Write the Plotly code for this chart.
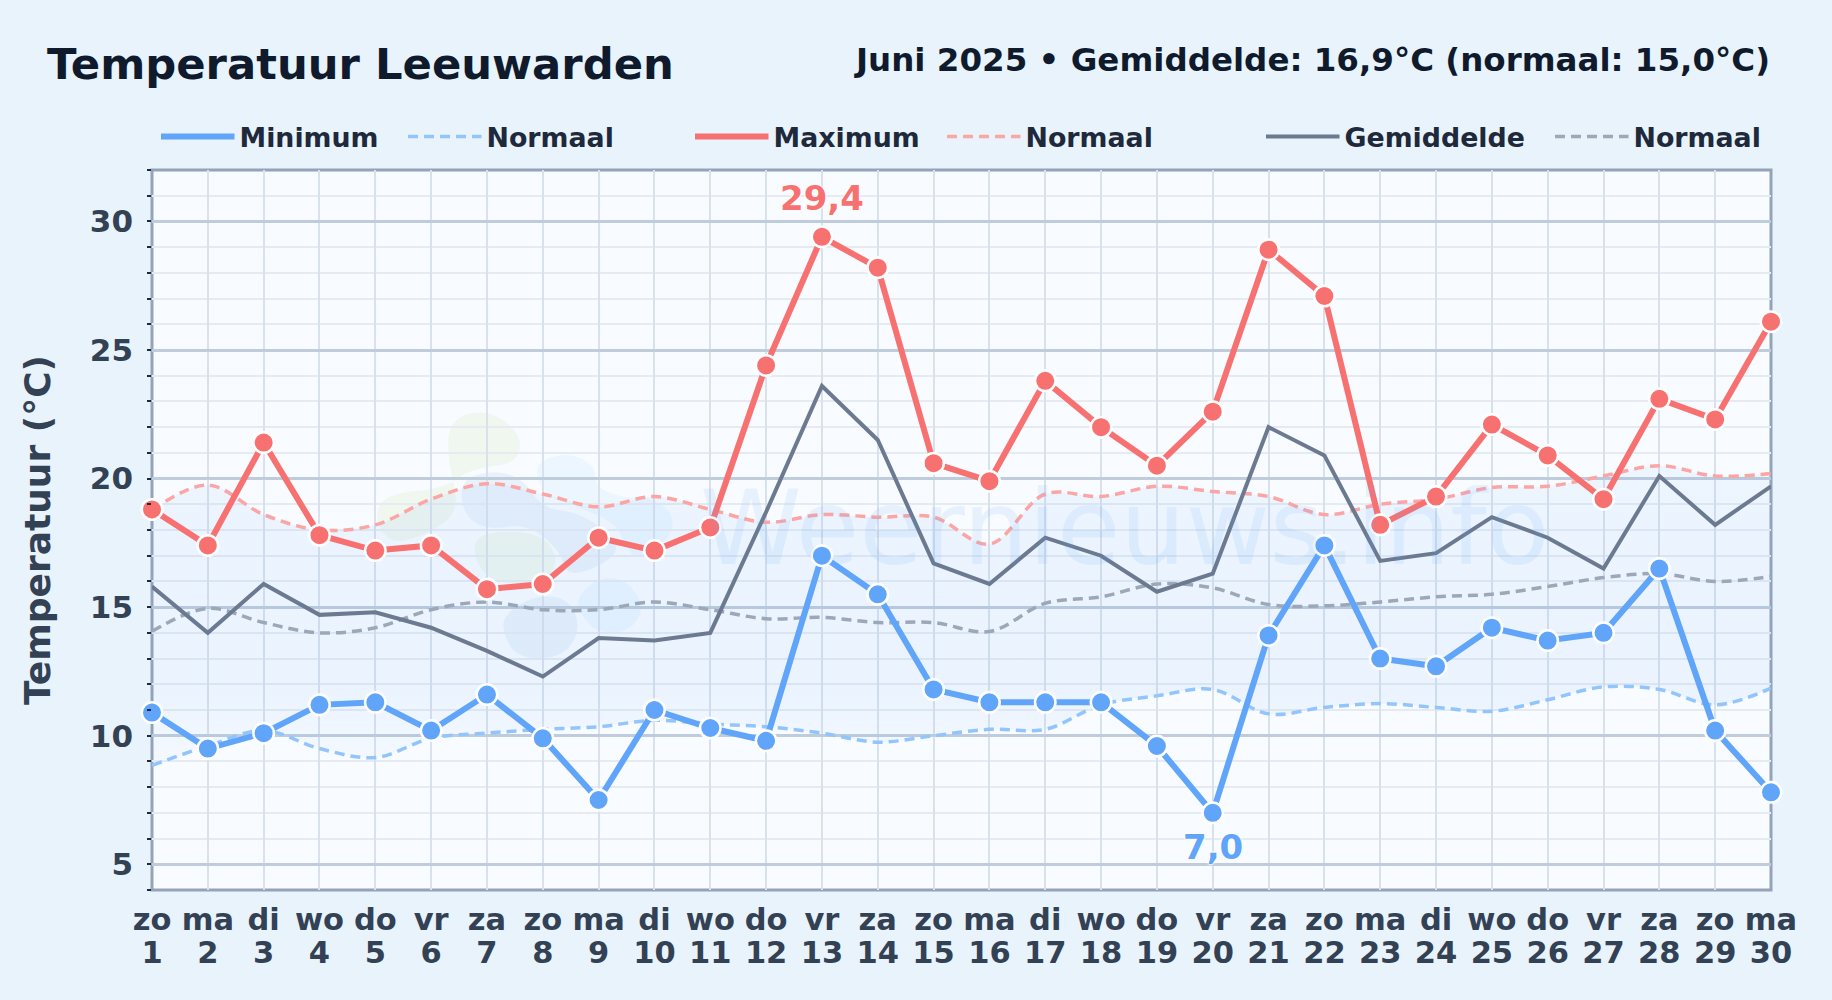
import plotly.graph_objects as go

days = list(range(1, 31))
weekdays = ["zo","ma","di","wo","do","vr","za"] * 4 + ["zo","ma"]
day_labels = [str(d) for d in days]

minimum = [10.9,9.5,10.1,11.2,11.3,10.2,11.6,9.9,7.5,11.0,10.3,9.8,17.0,15.5,11.8,11.3,11.3,11.3,9.6,7.0,13.9,17.4,13.0,12.7,14.2,13.7,14.0,16.5,10.2,7.8]
maximum = [18.8,17.4,21.4,17.8,17.2,17.4,15.7,15.9,17.7,17.2,18.1,24.4,29.4,28.2,20.6,19.9,23.8,22.0,20.5,22.6,28.9,27.1,18.2,19.3,22.1,20.9,19.2,23.1,22.3,26.1]
gemiddelde = [15.8,14.0,15.9,14.7,14.8,14.2,13.3,12.3,13.8,13.7,14.0,18.7,23.6,21.5,16.7,15.9,17.7,17.0,15.6,16.3,22.0,20.9,16.8,17.1,18.5,17.7,16.5,20.1,18.2,19.7]
normaal_min = [8.85,9.6,10.2,9.5,9.15,9.9,10.1,10.25,10.35,10.6,10.45,10.35,10.1,9.75,10.0,10.25,10.25,11.2,11.55,11.8,10.85,11.1,11.25,11.1,10.95,11.4,11.9,11.8,11.2,11.85]
normaal_max = [18.77,19.75,18.6,18.0,18.2,19.2,19.8,19.4,18.9,19.3,18.8,18.3,18.6,18.5,18.5,17.45,19.4,19.3,19.7,19.5,19.3,18.6,19.0,19.2,19.65,19.7,20.1,20.5,20.1,20.2]
normaal_gem = [14.06,14.95,14.4,14.0,14.2,14.9,15.2,14.9,14.9,15.2,14.9,14.55,14.6,14.4,14.4,14.05,15.15,15.4,15.9,15.75,15.1,15.05,15.2,15.4,15.5,15.8,16.15,16.3,16.0,16.2]

BLUE, RED, GREY = "#60a5fa", "#f87171", "#6b7a90"
FONT = "DejaVu Sans"
W, H = 1832, 1000
L, R, T, B = 152, 1771, 169.5, 890.5
px = lambda x: (x - L) / (R - L)
py = lambda y: (B - y) / (B - T)

def blob(zoomed, colour):
    # watermark logo outline, given in pixels of a 3x crop starting at (360,400)
    points = [(360 + a / 3, 400 + b / 3) for a, b in zoomed]
    n = len(points)
    mid = lambda a, b: ((a[0] + b[0]) / 2, (a[1] + b[1]) / 2)
    s = mid(points[-1], points[0])
    d = f"M {px(s[0])},{py(s[1])}"
    for i, p in enumerate(points):
        m = mid(p, points[(i + 1) % n])
        d += f" Q {px(p[0])},{py(p[1])} {px(m[0])},{py(m[1])}"
    return dict(type="path", path=d + " Z", xref="paper", yref="paper", fillcolor=colour, line_width=0, layer="below")

LOGO_GREEN = "rgba(190,225,140,0.14)"
LOGO_DARK = "rgba(70,140,210,0.08)"
LOGO_LIGHT = "rgba(96,185,250,0.08)"
shapes = [
    blob([(265,60),(380,25),(485,100),(475,190),(330,205),(255,265),(80,280),(40,350),(90,435),(210,400),(300,330),(265,190)], LOGO_GREEN),
    blob([(350,395),(540,395),(600,480),(545,555),(400,550),(340,480)], LOGO_GREEN),
    blob([(300,240),(400,210),(490,235),(545,325),(670,340),(790,440),(720,500),(620,530),(600,450),(500,370),(380,390),(310,345)], LOGO_DARK),
    blob([(520,190),(620,155),(705,195),(705,260),(790,295),(870,290),(940,340),(935,410),(840,480),(800,450),(770,370),(640,315),(550,285)], LOGO_LIGHT),
    blob([(430,650),(510,590),(620,590),(665,680),(610,775),(470,775),(430,700)], LOGO_DARK),
    blob([(650,590),(720,530),(800,540),(855,620),(810,695),(710,700),(660,640)], LOGO_LIGHT),
    dict(type="rect", xref="paper", yref="paper", x0=0, x1=1, y0=0, y1=1, line=dict(color="#94a3b8", width=3), layer="below"),
]

def legend(x):
    return dict(x=x, y=py(136), xref="paper", yref="paper", xanchor="left", yanchor="middle",
                orientation="h", bgcolor="rgba(0,0,0,0)", borderwidth=0, itemwidth=73.5, itemclick=False, itemdoubleclick=False,
                font=dict(family=FONT, size=26.8, color="#1e293b", weight="bold"))

fig = go.Figure()
# band between the two normals
fig.add_trace(go.Scatter(x=days, y=normaal_max, mode="lines", line=dict(width=0, shape="spline"), showlegend=False, hoverinfo="skip"))
fig.add_trace(go.Scatter(x=days, y=normaal_min, mode="lines", line=dict(width=0, shape="spline"), fill="tonexty", showlegend=False, hoverinfo="skip",
                         fillgradient=dict(type="vertical", colorscale=[[0, "rgba(96,165,250,0.02)"], [0.25, "rgba(96,165,250,0.09)"], [0.7, "rgba(96,165,250,0.09)"], [1, "rgba(96,165,250,0.07)"]])))
# carries the second row of day-number tick labels
fig.add_trace(go.Scatter(x=days, y=gemiddelde, xaxis="x2", mode="lines", line=dict(width=0), opacity=0, showlegend=False, hoverinfo="skip"))

def line(name, y, colour, width, dash, lg, shape="linear"):
    fig.add_trace(go.Scatter(x=days, y=y, name=name, mode="lines", legend=lg, cliponaxis=False,
                             line=dict(color=colour, width=width, dash=dash, shape=shape)))

line("Normaal", normaal_min, "#93c5fd", 3.5, "10px,6px", "legend2", "spline")
line("Normaal", normaal_max, "#fca5a5", 3.5, "10px,6px", "legend4", "spline")
line("Normaal", normaal_gem, "#9ca8b8", 3.5, "10px,6px", "legend6", "spline")
line("Gemiddelde", gemiddelde, GREY, 4, "solid", "legend5")
line("Minimum", minimum, BLUE, 6, "solid", "legend")
line("Maximum", maximum, RED, 6, "solid", "legend3")

for y, c in [(minimum, BLUE), (maximum, RED)]:
    fig.add_trace(go.Scatter(x=days, y=y, mode="markers", cliponaxis=False, showlegend=False,
                             marker=dict(size=20.5, color=c, line=dict(color="white", width=2.5))))

HALO = "0 0 3px white, 0 0 3px white, 0 0 2px white, 0 0 2px white"
fig.add_annotation(x=13, y=29.4, text="29,4", showarrow=False, yshift=39, xref="x", yref="y",
                   font=dict(family=FONT, size=34, color=RED, weight="bold", shadow=HALO))
fig.add_annotation(x=20, y=7.0, text="7,0", showarrow=False, yshift=-34, xref="x", yref="y",
                   font=dict(family=FONT, size=34, color=BLUE, weight="bold", shadow=HALO))

anns = [
    dict(text="Temperatuur Leeuwarden", x=px(45), y=py(63), xanchor="left", size=43.3, colour="#0f1b2d"),
    dict(text="Juni 2025 • Gemiddelde: 16,9°C (normaal: 15,0°C)", x=px(1772), y=py(59), xanchor="right", size=32.5, colour="#0f1b2d"),
]
for a in anns:
    fig.add_annotation(text=a["text"], x=a["x"], y=a["y"], xref="paper", yref="paper", xanchor=a["xanchor"], yanchor="middle",
                       showarrow=False, font=dict(family=FONT, size=a["size"], color=a["colour"], weight="bold"))
fig.add_annotation(text="Weernieuws.info", x=px(1124), y=py(528), xref="paper", yref="paper", showarrow=False, xanchor="center", yanchor="middle",
                   font=dict(family=FONT, size=103, color="rgba(96,165,250,0.10)", shadow="0 0 1.5px rgba(96,165,250,0.16)"))

XFONT = dict(family=FONT, size=30.5, color="#334155", weight="bold")
fig.update_layout(
    width=W, height=H, autosize=False,
    margin=dict(l=L, r=W - R, t=T, b=H - B),
    paper_bgcolor="#e8f3fc", plot_bgcolor="#f8fbff",
    shapes=shapes,
    font=dict(family=FONT),
    legend=legend(px(156)), legend2=legend(px(403)), legend3=legend(px(690)), legend4=legend(px(942)),
    legend5=legend(px(1261)), legend6=legend(px(1550)),
    xaxis=dict(range=[1, 30], tickmode="array", tickvals=days, ticktext=weekdays, ticks="", showgrid=True,
               gridcolor="#d9e1ec", gridwidth=2, showline=False, zeroline=False,
               ticklabelstandoff=8, tickfont=XFONT, ticklabeloverflow="allow"),
    xaxis2=dict(range=[1, 30], overlaying="x", side="bottom", anchor="y", tickmode="array", tickvals=days, ticktext=day_labels, ticks="",
                showgrid=False, showline=False, zeroline=False, ticklabelstandoff=41, tickfont=XFONT, ticklabeloverflow="allow"),
    yaxis=dict(range=[4, 32], tickmode="array", tickvals=[5,10,15,20,25,30], ticktext=["5","10","15","20","25","30"], ticks="", showgrid=True,
               gridcolor="#bfccdc", gridwidth=3, showline=False, zeroline=False,
               ticklabelstandoff=18,
               tickfont=dict(family=FONT, size=31, color="#334155", weight="bold"),
               title=dict(text="Temperatuur (°C)", standoff=28, font=dict(family=FONT, size=36, color="#334155", weight="bold")),
               minor=dict(dtick=1, tick0=0, ticks="outside", ticklen=4, tickwidth=2, tickcolor="#1e293b", showgrid=True, gridcolor="#e6ebf2", gridwidth=2)),
)
fig.write_html("out.html", config=dict(displayModeBar=False), post_script="document.body.style.margin='0';document.body.style.overflow='hidden';document.documentElement.style.background='#e8f3fc';")
